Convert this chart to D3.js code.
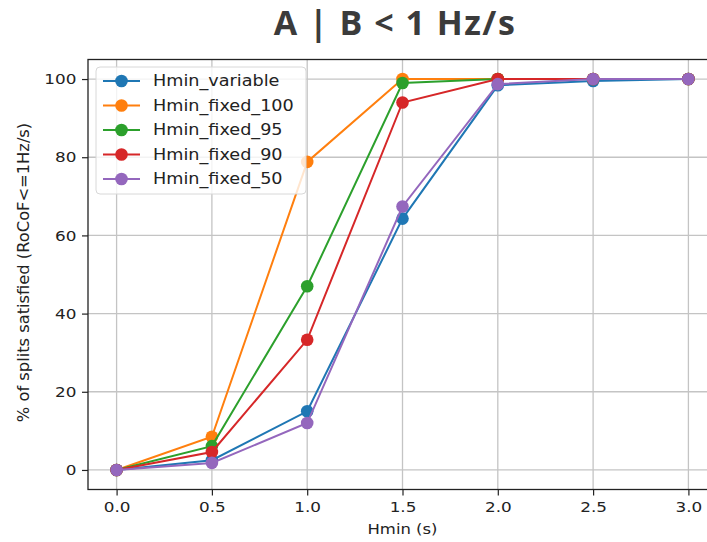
<!DOCTYPE html>
<html>
<head>
<meta charset="utf-8">
<script src="https://cdn.jsdelivr.net/npm/d3@7"></script>
<style>
    body { margin: 0; background: #fff; }
    svg { display: block; }
</style>
</head>
<body>
<div id="chart"></div>
<script>
(function () {
    "use strict";

    const hmin = [0, 0.5, 1.0, 1.5, 2.0, 2.5, 3.0];
    const seriesNames = ["Hmin_variable", "Hmin_fixed_100", "Hmin_fixed_95", "Hmin_fixed_90", "Hmin_fixed_50"];
    const hminVariable = [0, 2.5, 15, 64.3, 98.4, 99.5, 100];
    const hminFixed100 = [0, 8.5, 78.8, 100, 100, 100, 100];
    const hminFixed95 = [0, 6.1, 47, 99, 100, 100, 100];
    const hminFixed90 = [0, 4.6, 33.3, 94, 100, 100, 100];
    const hminFixed50 = [0, 1.8, 12, 67.4, 98.7, 100, 100];
    const xTicks = [0, 0.5, 1.0, 1.5, 2.0, 2.5, 3.0];
    const yTicks = [0, 20, 40, 60, 80, 100];
    const colors = ["#1f77b4", "#ff7f0e", "#2ca02c", "#d62728", "#9467bd"];

    const allSeries = [hminVariable, hminFixed100, hminFixed95, hminFixed90, hminFixed50];

    const width = 707;
    const height = 542;
    const margin = { left: 88, top: 59.5, bottom: 52.5, right: 0 };
    const plotRight = 717;
    const plotBottom = height - margin.bottom;
    // the source picture is a bit wider than tall, text too
    const stretch = 1.16;
    const font = "'DejaVu Sans', sans-serif";

    const svg = d3.select("#chart").append("svg")
        .attr("width", width)
        .attr("height", height);

    const xScale = d3.scaleLinear()
        .domain([-0.15, 3.15])
        .range([margin.left, plotRight]);

    const yScale = d3.scaleLinear()
        .domain([-5, 105])
        .range([plotBottom, margin.top]);

    // title
    svg.append("text")
        .attr("x", 395)
        .attr("y", 35)
        .attr("text-anchor", "middle")
        .attr("font-family", "'Open Sans', sans-serif")
        .attr("font-weight", "bold")
        .attr("font-size", 34)
        .attr("letter-spacing", 1.5)
        .attr("fill", "#3b3b3b")
        .text("A | B < 1 Hz/s");

    // grid
    const grid = svg.append("g").attr("stroke", "#c4c4c4").attr("stroke-width", 1.3);
    grid.selectAll(".vgrid").data(xTicks).enter().append("line")
        .attr("x1", d => xScale(d)).attr("x2", d => xScale(d))
        .attr("y1", margin.top).attr("y2", plotBottom);
    grid.selectAll(".hgrid").data(yTicks).enter().append("line")
        .attr("x1", margin.left).attr("x2", plotRight)
        .attr("y1", d => yScale(d)).attr("y2", d => yScale(d));

    // axes
    const xAxis = d3.axisBottom(xScale)
        .tickValues(xTicks)
        .tickFormat(d3.format(".1f"))
        .tickSize(6)
        .tickPadding(6);

    const yAxis = d3.axisLeft(yScale)
        .tickValues(yTicks)
        .tickSize(6)
        .tickPadding(4);

    const gx = svg.append("g")
        .attr("transform", `translate(0,${plotBottom})`)
        .call(xAxis);

    const gy = svg.append("g")
        .attr("transform", `translate(${margin.left},0)`)
        .call(yAxis);

    [gx, gy].forEach((g) => {
        g.select(".domain").remove();
        g.selectAll(".tick line").attr("stroke", "#222").attr("stroke-width", 1.2);
        g.selectAll(".tick text")
            .attr("font-family", font)
            .attr("font-size", 14.5)
            .attr("fill", "#222")
            .attr("transform", `scale(${stretch},1)`);
    });

    // lines and markers
    const line = d3.line()
        .x((d, i) => xScale(hmin[i]))
        .y(d => yScale(d));

    allSeries.forEach((values, k) => {
        const g = svg.append("g");
        g.append("path")
            .datum(values)
            .attr("fill", "none")
            .attr("stroke", colors[k])
            .attr("stroke-width", 2)
            .attr("d", line);
        g.selectAll("circle").data(values).enter().append("circle")
            .attr("cx", (d, i) => xScale(hmin[i]))
            .attr("cy", d => yScale(d))
            .attr("r", 6.3)
            .attr("fill", colors[k]);
    });

    // spines
    svg.append("rect")
        .attr("x", margin.left)
        .attr("y", margin.top)
        .attr("width", plotRight - margin.left)
        .attr("height", plotBottom - margin.top)
        .attr("fill", "none")
        .attr("stroke", "#222")
        .attr("stroke-width", 1.3);

    // axis labels
    svg.append("g")
        .attr("transform", `translate(${xScale(1.5)},534) scale(${stretch},1)`)
        .append("text")
        .attr("text-anchor", "middle")
        .attr("font-family", font)
        .attr("font-size", 14.2)
        .attr("fill", "#222")
        .text("Hmin (s)");

    svg.append("text")
        .attr("transform", `translate(29,${(margin.top + plotBottom) / 2 - 2}) rotate(-90)`)
        .attr("text-anchor", "middle")
        .attr("font-family", font)
        .attr("font-size", 16.3)
        .attr("fill", "#222")
        .text("% of splits satisfied (RoCoF<=1Hz/s)");

    // legend
    const legend = svg.append("g").attr("transform", "translate(96,67)");
    legend.append("rect")
        .attr("width", 210)
        .attr("height", 127)
        .attr("rx", 4)
        .attr("fill", "rgba(255,255,255,0.8)")
        .attr("stroke", "#d8d8d8")
        .attr("stroke-width", 1);

    const item = legend.selectAll(".item").data(seriesNames).enter().append("g")
        .attr("transform", (d, i) => `translate(0,${14 + i * 24.5})`);
    item.append("line")
        .attr("x1", 7).attr("x2", 44)
        .attr("stroke", (d, i) => colors[i])
        .attr("stroke-width", 2);
    item.append("circle")
        .attr("cx", 25.5).attr("r", 6.3)
        .attr("fill", (d, i) => colors[i]);
    item.append("g")
        .attr("transform", `translate(57,0) scale(${stretch},1)`)
        .append("text")
        .attr("dy", "0.36em")
        .attr("font-family", font)
        .attr("font-size", 15.2)
        .attr("fill", "#222")
        .text(d => d);
}());
</script>
</body>
</html>
